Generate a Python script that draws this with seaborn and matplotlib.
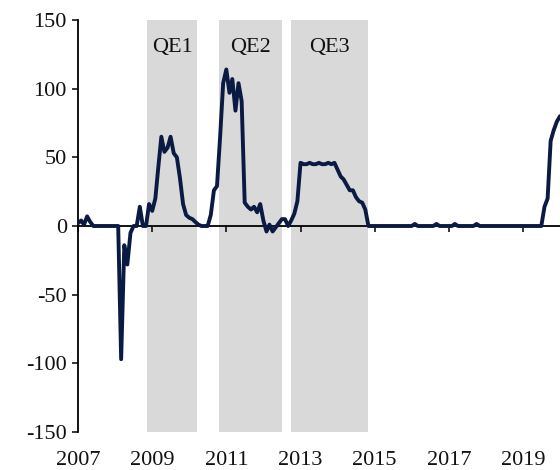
import matplotlib
matplotlib.use("Agg")
import matplotlib.pyplot as plt
import matplotlib.transforms as mtransforms
import pandas as pd
import seaborn as sns

# monthly values, Jan 2007 .. Jan 2020 (one row per year)
values = [
    2, 4, 1, 7, 3, 0, 0, 0, 0, 0, 0, 0,                 # 2007
    0, 0, -97, -14, -28, -5, 0, 0, 14, 0, 0, 16,        # 2008
    11, 20, 42, 65, 54, 57, 65, 53, 50, 35, 16, 8,      # 2009
    6, 5, 3, 1, 0, 0, 0, 8, 26, 29, 65, 104,            # 2010
    114, 97, 107, 84, 104, 91, 17, 14, 12, 14, 10, 16,  # 2011
    4, -4, 1, -4, -1, 2, 5, 5, 0, 4, 9, 18,             # 2012
    46, 45, 45, 46, 45, 45, 46, 45, 45, 46, 45, 46,     # 2013
    41, 36, 34, 30, 26, 26, 21, 18, 17, 12, 0, 0,       # 2014
    0, 0, 0, 0, 0, 0, 0, 0, 0, 0, 0, 0,                 # 2015
    0, 1.5, 0, 0, 0, 0, 0, 0, 1.5, 0, 0, 0,             # 2016
    0, 0, 1.5, 0, 0, 0, 0, 0, 0, 1.5, 0, 0,             # 2017
    0, 0, 0, 0, 0, 0, 0, 0, 0, 0, 0, 0,                 # 2018
    0, 0, 0, 0, 0, 0, 0, 14, 20, 62, 70, 76,            # 2019
    80,                                                 # 2020
]
start_month = "2007-01-01"

qe_names = ["QE1", "QE2", "QE3"]
qe_starts = ["2008-11-10", "2010-10-23", "2012-10-04"]
qe_ends = ["2010-03-20", "2012-06-28", "2014-10-23"]
qe_label_y = 130

year_ticks = [2007, 2009, 2011, 2013, 2015, 2017, 2019]
y_ticks = [-150, -100, -50, 0, 50, 100, 150]

dates = pd.date_range(start_month, periods=len(values), freq="MS")
df = pd.DataFrame({"date": dates, "value": values})

sns.set_theme(style="ticks")
plt.rcParams["font.family"] = ["Liberation Serif", "DejaVu Serif"]
plt.rcParams["axes.unicode_minus"] = False

fig = plt.figure(figsize=(5.6, 4.7), dpi=100)
ax = fig.add_axes([78 / 560, 38 / 470, 482 / 560, 412 / 470])

# QE shading
for name, s, e in zip(qe_names, qe_starts, qe_ends):
    s, e = pd.Timestamp(s), pd.Timestamp(e)
    ax.axvspan(s, e, color="#d9d9d9", lw=0, zorder=0)
    ax.text(s + (e - s) / 2, qe_label_y, name, ha="center", va="center",
            fontsize=16, color="#111111")

sns.lineplot(data=df, x="date", y="value", ax=ax, color="#0b1a42",
             linewidth=2.8, zorder=3)

ax.set_xlim(pd.Timestamp("2007-01-01"), pd.Timestamp("2020-01-01"))
ax.set_ylim(-150, 150)
ax.set_yticks(y_ticks)
ax.set_yticklabels([str(v) for v in y_ticks], fontsize=16)

tick_dates = [pd.Timestamp(f"{y}-01-01") for y in year_ticks]
ax.set_xticks(tick_dates)
ax.set_xticklabels([])
trans = mtransforms.blended_transform_factory(ax.transData, ax.transAxes)
for d, y in zip(tick_dates, year_ticks):
    ax.text(d, -0.068, str(y), transform=trans, ha="center", va="center",
            fontsize=16, color="#111111", clip_on=False)

ax.spines["bottom"].set_position(("data", 0))
ax.spines["top"].set_visible(False)
ax.spines["right"].set_visible(False)
for sp in ["left", "bottom"]:
    ax.spines[sp].set_color("black")
    ax.spines[sp].set_linewidth(1.3)
ax.tick_params(axis="both", direction="out", length=4, width=1.1,
               color="black", labelcolor="#111111")
ax.tick_params(axis="y", pad=4)
ax.set_xlabel("")
ax.set_ylabel("")
ax.grid(False)

fig.savefig("out.png", dpi=100, facecolor="white")
